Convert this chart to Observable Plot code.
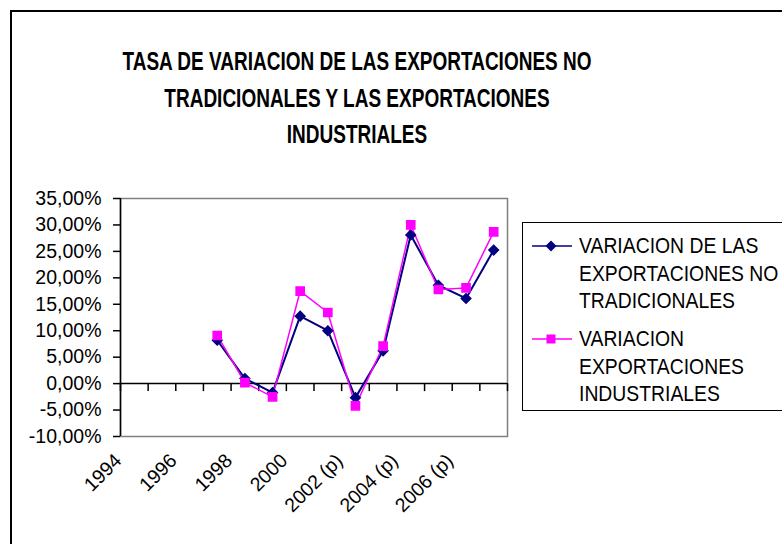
<!DOCTYPE html>
<html>
<head>
<meta charset="utf-8">
<script src="https://cdn.jsdelivr.net/npm/d3@7"></script>
<script src="https://cdn.jsdelivr.net/npm/@observablehq/plot@0.6"></script>
<style>
  html, body { margin: 0; padding: 0; background: #fff; overflow: hidden; }
  #wrap { position: relative; width: 782px; height: 544px; overflow: hidden; font-family: "Liberation Sans", Arial, sans-serif; }
  #border { position: absolute; left: 10px; top: 10px; width: 900px; height: 700px; border: 2px solid #000; box-sizing: border-box; }
  #chart { position: absolute; left: 0; top: 0; }
  #title { position: absolute; left: -43px; width: 800px; top: 43px; text-align: center; font-weight: bold; font-size: 25px; line-height: 36.5px; color: #000; white-space: nowrap; transform: scaleX(0.76); transform-origin: 400px 0; }
  #legend { position: absolute; left: 522px; top: 222px; width: 400px; height: 189px; border: 1.5px solid #000; box-sizing: border-box; background: #fff; }
  .item { position: absolute; left: 8px; }
  .item svg { position: absolute; left: 0; }
  .item .lab { position: absolute; left: 48px; font-size: 22px; line-height: 27.7px; white-space: nowrap; transform: scaleX(0.88); transform-origin: 0 0; color: #000; }
</style>
</head>
<body>
<div id="wrap">
  <div id="border"></div>
  <div id="chart"></div>
  <div id="title">TASA DE VARIACION DE LAS EXPORTACIONES NO<br>TRADICIONALES Y LAS EXPORTACIONES<br>INDUSTRIALES</div>
  <div id="legend"></div>
</div>
<script>
// Categories (years)
const categories = ["1994", "1995", "1996", "1997", "1998", "1999", "2000", "2001", "2002 (p)", "2003 (p)", "2004 (p)", "2005 (p)", "2006 (p)", "2007 (p)"];
// Series values (%), null = no data
const noTradicionales = [null, null, null, 8.2, 0.95, -1.7, 12.75, 10.0, -2.65, 6.2, 28.1, 18.6, 16.1, 25.25];
const industriales    = [null, null, null, 9.1, 0.2, -2.5, 17.5, 13.45, -4.2, 7.1, 30.0, 17.8, 18.1, 28.7];
const seriesNames = ["VARIACION DE LAS EXPORTACIONES NO TRADICIONALES", "VARIACION EXPORTACIONES INDUSTRIALES"];
const yTicks = [-10, -5, 0, 5, 10, 15, 20, 25, 30, 35];
const xLabelIdx = [0, 2, 4, 6, 8, 10, 12];

const navy = "#000080", magenta = "#FF00FF";

const s1 = noTradicionales.map((v, i) => ({i, v})).filter(d => d.v !== null);
const s2 = industriales.map((v, i) => ({i, v})).filter(d => d.v !== null);
const bounds = d3.range(categories.length + 1).map(k => k - 0.5);

const W = 782, H = 544, mT = 198, mB = 108, mL = 120, mR = 275;
const innerH = H - mT - mB;
const zeroShift = -innerH * (0 - (-10)) / (35 - (-10));

const fmt = d => d.toFixed(2).replace(".", ",") + "%";

const chart = Plot.plot({
  width: W, height: H,
  marginTop: mT, marginBottom: mB, marginLeft: mL, marginRight: mR,
  style: {fontFamily: "Liberation Sans, Arial, sans-serif", color: "#000", background: "transparent"},
  x: {domain: [-0.5, categories.length - 0.5]},
  y: {domain: [-10, 35]},
  marks: [
    Plot.frame({stroke: "#808080", strokeWidth: 1.5}),
    Plot.ruleY([0], {stroke: "#000", strokeWidth: 1.5}),
    Plot.ruleX([-0.5], {stroke: "#000", strokeWidth: 1.5}),
    Plot.axisY({ticks: yTicks, tickFormat: fmt, tickSize: 7, tickPadding: 12, fontSize: 19.5, label: null, stroke: "#000", strokeWidth: 1.5}),
    Plot.axisX({ticks: bounds, tickFormat: () => "", tickSize: 8, dy: zeroShift, label: null, stroke: "#000", strokeWidth: 1.5}),
    Plot.axisX({ticks: xLabelIdx, tickFormat: i => categories[i], tickSize: 0, tickPadding: 21, tickRotate: -45, dx: -16, fontSize: 19.5, label: null}),
    Plot.line(s1, {x: "i", y: "v", stroke: navy, strokeWidth: 2}),
    Plot.line(s2, {x: "i", y: "v", stroke: magenta, strokeWidth: 1.5}),
    Plot.dot(s1, {x: "i", y: "v", symbol: "diamond2", r: 4.3, fill: navy, stroke: navy}),
    Plot.dot(s2, {x: "i", y: "v", symbol: "square", r: 4.6, fill: magenta, stroke: magenta})
  ]
});
document.getElementById("chart").appendChild(chart);

// Legend
const legend = document.getElementById("legend");
const items = [
  {name: seriesNames[0], color: navy, sym: "diamond", lines: ["VARIACION DE LAS", "EXPORTACIONES NO", "TRADICIONALES"], top: 9},
  {name: seriesNames[1], color: magenta, sym: "square", lines: ["VARIACION", "EXPORTACIONES", "INDUSTRIALES"], top: 102}
];
items.forEach(it => {
  const div = document.createElement("div");
  div.className = "item";
  div.style.top = it.top + "px";
  const marker = it.sym === "diamond"
    ? `<path d="M20,8.5 L25.5,14 L20,19.5 L14.5,14 Z" fill="${it.color}"/>`
    : `<rect x="15.5" y="9.5" width="9" height="9" fill="${it.color}"/>`;
  div.innerHTML = `<svg width="42" height="28" style="top:0"><line x1="1" x2="41" y1="14" y2="14" stroke="${it.color}" stroke-width="1.5"/>${marker}</svg>` +
    `<div class="lab" style="top:0">${it.lines.join("<br>")}</div>`;
  legend.appendChild(div);
});
</script>
</body>
</html>
